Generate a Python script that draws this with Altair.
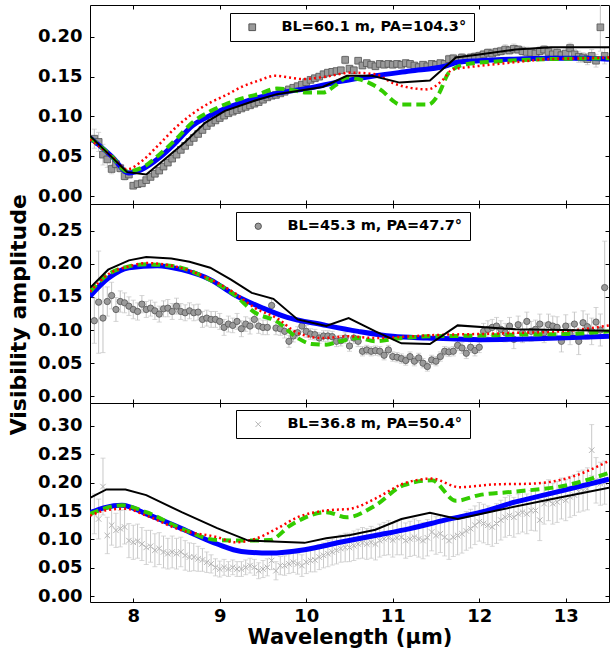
import altair as alt
import pandas as pd

FONT = "DejaVu Sans"

# wavelength grid of the measured points (micron)
LAM = [
    7.55, 7.60, 7.65, 7.70, 7.75, 7.80, 7.85, 7.90, 7.95, 8.00,
    8.05, 8.10, 8.15, 8.20, 8.25, 8.30, 8.35, 8.40, 8.45, 8.50,
    8.55, 8.60, 8.65, 8.70, 8.75, 8.80, 8.85, 8.90, 8.95, 9.00,
    9.05, 9.10, 9.15, 9.20, 9.25, 9.30, 9.35, 9.40, 9.45, 9.50,
    9.55, 9.60, 9.65, 9.70, 9.75, 9.80, 9.85, 9.90, 9.95, 10.00,
    10.05, 10.10, 10.15, 10.20, 10.25, 10.30, 10.35, 10.40, 10.45, 10.50,
    10.55, 10.60, 10.65, 10.70, 10.75, 10.80, 10.85, 10.90, 10.95, 11.00,
    11.05, 11.10, 11.15, 11.20, 11.25, 11.30, 11.35, 11.40, 11.45, 11.50,
    11.55, 11.60, 11.65, 11.70, 11.75, 11.80, 11.85, 11.90, 11.95, 12.00,
    12.05, 12.10, 12.15, 12.20, 12.25, 12.30, 12.35, 12.40, 12.45, 12.50,
    12.55, 12.60, 12.65, 12.70, 12.75, 12.80, 12.85, 12.90, 12.95, 13.00,
    13.05, 13.10, 13.15, 13.20, 13.25, 13.30, 13.35, 13.40, 13.45,
]

# ---- panel 1: BL=60.1 m, PA=104.3 deg
V1 = [
    0.072, 0.068, 0.052, 0.046, 0.034, 0.040, 0.035, 0.025, 0.027, 0.013,
    0.015, 0.016, 0.020, 0.024, 0.028, 0.032, 0.037, 0.042, 0.047, 0.052,
    0.058, 0.063, 0.068, 0.073, 0.078, 0.083, 0.088, 0.092, 0.095, 0.098,
    0.101, 0.104, 0.106, 0.108, 0.110, 0.112, 0.114, 0.116, 0.118, 0.121,
    0.124, 0.126, 0.127, 0.129, 0.131, 0.134, 0.136, 0.138, 0.140, 0.143,
    0.146, 0.148, 0.150, 0.153, 0.155, 0.156, 0.157, 0.158, 0.171, 0.160,
    0.158, 0.170, 0.164, 0.167, 0.165, 0.163, 0.166, 0.165, 0.166, 0.165,
    0.166, 0.165, 0.167, 0.166, 0.164, 0.162, 0.165, 0.163, 0.166, 0.165,
    0.167, 0.166, 0.172, 0.173, 0.171, 0.174, 0.172, 0.174, 0.175, 0.176,
    0.178, 0.180, 0.179, 0.181, 0.182, 0.184, 0.183, 0.185, 0.184, 0.182,
    0.181, 0.180, 0.179, 0.182, 0.184, 0.181, 0.178, 0.180, 0.177, 0.179,
    0.186, 0.178, 0.175, 0.174, 0.172, 0.176, 0.170, 0.212, 0.176,
]
E1 = [
    0.012, 0.012, 0.013, 0.010, 0.006, 0.006, 0.005, 0.005, 0.004, 0.004,
    0.003, 0.003, 0.003, 0.003, 0.003, 0.003, 0.003, 0.003, 0.003, 0.003,
    0.003, 0.003, 0.003, 0.003, 0.003, 0.003, 0.003, 0.003, 0.003, 0.003,
    0.003, 0.003, 0.003, 0.003, 0.003, 0.003, 0.003, 0.003, 0.003, 0.003,
    0.003, 0.003, 0.003, 0.003, 0.003, 0.003, 0.003, 0.004, 0.004, 0.004,
    0.004, 0.004, 0.004, 0.004, 0.004, 0.004, 0.004, 0.004, 0.005, 0.004,
    0.004, 0.004, 0.004, 0.004, 0.004, 0.004, 0.004, 0.004, 0.004, 0.004,
    0.004, 0.004, 0.004, 0.004, 0.004, 0.004, 0.004, 0.004, 0.004, 0.004,
    0.004, 0.004, 0.005, 0.005, 0.005, 0.005, 0.005, 0.005, 0.005, 0.005,
    0.005, 0.005, 0.006, 0.005, 0.005, 0.006, 0.005, 0.006, 0.005, 0.006,
    0.006, 0.005, 0.006, 0.006, 0.005, 0.006, 0.007, 0.006, 0.006, 0.007,
    0.006, 0.006, 0.007, 0.006, 0.007, 0.008, 0.008, 0.030, 0.010,
]
BLACK1_L = [7.5, 7.93, 8.15, 8.35, 8.6, 8.83, 9.06, 9.41, 9.66, 10.19, 10.47, 10.76, 11.08, 11.43, 11.73, 12.02, 12.42, 12.83, 13.5]
BLACK1_V = [0.0755, 0.030, 0.027, 0.045, 0.068, 0.092, 0.107, 0.120, 0.128, 0.137, 0.151, 0.151, 0.1425, 0.145, 0.174, 0.178, 0.184, 0.187, 0.187]
BLUE1_L = [7.5, 7.75, 7.95, 8.1, 8.3, 8.5, 8.68, 8.85, 9.06, 9.3, 9.5, 9.66, 10.0, 10.4, 10.8, 11.2, 11.6, 11.75, 12.0, 12.4, 12.8, 13.2, 13.5]
BLUE1_V = [0.0734, 0.050, 0.029, 0.0335, 0.048, 0.068, 0.088, 0.099, 0.110, 0.119, 0.125, 0.129, 0.135, 0.144, 0.151, 0.157, 0.163, 0.168, 0.170, 0.172, 0.173, 0.173, 0.172]
RED1_L = [7.5, 7.75, 7.93, 8.1, 8.3, 8.5, 8.68, 8.9, 9.06, 9.25, 9.45, 9.64, 9.8, 9.95, 10.23, 10.51, 10.8, 11.0, 11.2, 11.4, 11.57, 11.69, 11.8, 12.0, 12.4, 12.8, 13.2, 13.5]
RED1_V = [0.071, 0.050, 0.0335, 0.044, 0.065, 0.087, 0.103, 0.118, 0.126, 0.137, 0.145, 0.151, 0.149, 0.147, 0.150, 0.155, 0.153, 0.142, 0.136, 0.134, 0.145, 0.159, 0.161, 0.1635, 0.168, 0.172, 0.173, 0.174]
GREEN1_L = [7.5, 7.75, 7.93, 8.14, 8.3, 8.5, 8.68, 8.9, 9.06, 9.3, 9.45, 9.66, 9.85, 10.0, 10.19, 10.35, 10.47, 10.6, 10.72, 10.88, 11.0, 11.08, 11.41, 11.53, 11.65, 11.85, 12.2, 12.8, 13.5]
GREEN1_V = [0.0734, 0.050, 0.031, 0.038, 0.052, 0.072, 0.092, 0.107, 0.115, 0.124, 0.128, 0.135, 0.133, 0.130, 0.130, 0.140, 0.149, 0.147, 0.1425, 0.132, 0.120, 0.115, 0.115, 0.128, 0.155, 0.1656, 0.169, 0.172, 0.173]

# ---- panel 2: BL=45.3 m, PA=47.7 deg
V2 = [
    0.114, 0.142, 0.118, 0.143, 0.152, 0.131, 0.143, 0.141, 0.136, 0.131,
    0.128, 0.139, 0.131, 0.133, 0.129, 0.124, 0.132, 0.133, 0.128, 0.136,
    0.128, 0.126, 0.129, 0.126, 0.127, 0.116, 0.118, 0.116, 0.116, 0.113,
    0.104, 0.109, 0.107, 0.113, 0.102, 0.109, 0.106, 0.116, 0.106, 0.104,
    0.104, 0.137, 0.103, 0.102, 0.098, 0.083, 0.091, 0.096, 0.106, 0.098,
    0.094, 0.093, 0.088, 0.091, 0.091, 0.090, 0.083, 0.084, 0.088, 0.076,
    0.088, 0.083, 0.068, 0.070, 0.068, 0.069, 0.068, 0.062, 0.070, 0.060,
    0.059, 0.057, 0.054, 0.060, 0.053, 0.058, 0.050, 0.045, 0.055, 0.053,
    0.060, 0.068, 0.067, 0.068, 0.077, 0.073, 0.065, 0.074, 0.069, 0.074,
    0.098, 0.101, 0.104, 0.106, 0.101, 0.096, 0.106, 0.086, 0.108, 0.096,
    0.113, 0.098, 0.101, 0.109, 0.096, 0.108, 0.106, 0.104, 0.083, 0.106,
    0.094, 0.109, 0.083, 0.111, 0.105, 0.098, 0.112, 0.100, 0.164,
]
E2 = [
    0.034, 0.077, 0.052, 0.022, 0.020, 0.018, 0.016, 0.015, 0.014, 0.014,
    0.013, 0.013, 0.012, 0.012, 0.013, 0.012, 0.012, 0.013, 0.012, 0.012,
    0.012, 0.012, 0.012, 0.012, 0.012, 0.012, 0.012, 0.012, 0.012, 0.012,
    0.012, 0.012, 0.011, 0.012, 0.012, 0.011, 0.012, 0.012, 0.011, 0.011,
    0.011, 0.010, 0.010, 0.010, 0.010, 0.009, 0.009, 0.009, 0.009, 0.009,
    0.008, 0.008, 0.008, 0.008, 0.008, 0.008, 0.008, 0.008, 0.008, 0.008,
    0.008, 0.008, 0.007, 0.007, 0.007, 0.007, 0.007, 0.007, 0.007, 0.007,
    0.007, 0.007, 0.007, 0.007, 0.007, 0.007, 0.007, 0.007, 0.007, 0.007,
    0.007, 0.007, 0.007, 0.007, 0.008, 0.008, 0.008, 0.008, 0.008, 0.008,
    0.012, 0.013, 0.012, 0.013, 0.013, 0.014, 0.013, 0.014, 0.013, 0.015,
    0.014, 0.015, 0.014, 0.015, 0.015, 0.016, 0.015, 0.016, 0.016, 0.017,
    0.016, 0.018, 0.020, 0.018, 0.019, 0.020, 0.022, 0.024, 0.070,
]
BLACK2_L = [7.5, 7.71, 7.95, 8.15, 8.44, 8.65, 8.89, 9.13, 9.37, 9.62, 9.9, 10.23, 10.49, 10.8, 11.1, 11.43, 11.75, 12.42, 13.5]
BLACK2_V = [0.1635, 0.191, 0.205, 0.210, 0.208, 0.203, 0.194, 0.176, 0.156, 0.147, 0.116, 0.106, 0.118, 0.098, 0.080, 0.079, 0.107, 0.101, 0.099]
BLUE2_L = [7.5, 7.71, 7.95, 8.28, 8.56, 8.89, 9.17, 9.5, 9.78, 10.19, 10.6, 11.0, 11.4, 12.02, 12.65, 13.5]
BLUE2_V = [0.151, 0.178, 0.194, 0.197, 0.191, 0.176, 0.153, 0.133, 0.119, 0.108, 0.098, 0.0905, 0.088, 0.0855, 0.087, 0.0905]
RED2_L = [7.5, 7.71, 7.95, 8.15, 8.48, 8.85, 9.17, 9.41, 9.66, 9.9, 10.19, 10.47, 10.8, 11.2, 11.6, 12.0, 12.4, 12.95, 13.5]
RED2_V = [0.158, 0.184, 0.196, 0.201, 0.196, 0.179, 0.156, 0.133, 0.118, 0.0956, 0.088, 0.0905, 0.088, 0.0905, 0.093, 0.094, 0.0956, 0.098, 0.107]
GREEN2_L = [7.5, 7.71, 7.95, 8.15, 8.48, 8.85, 9.17, 9.41, 9.66, 9.9, 10.06, 10.23, 10.39, 10.6, 10.8, 11.04, 11.41, 12.0, 12.4, 13.0, 13.5]
GREEN2_V = [0.158, 0.184, 0.196, 0.199, 0.196, 0.178, 0.153, 0.126, 0.113, 0.088, 0.079, 0.078, 0.083, 0.088, 0.083, 0.087, 0.0905, 0.0916, 0.093, 0.094, 0.098]

# ---- panel 3: BL=36.8 m, PA=50.4 deg
V3 = [
    0.145, 0.136, 0.193, 0.107, 0.125, 0.116, 0.119, 0.122, 0.098, 0.095,
    0.097, 0.092, 0.086, 0.088, 0.081, 0.084, 0.078, 0.075, 0.078, 0.075,
    0.078, 0.072, 0.069, 0.069, 0.066, 0.064, 0.060, 0.057, 0.051, 0.048,
    0.051, 0.048, 0.051, 0.048, 0.048, 0.051, 0.054, 0.051, 0.045, 0.048,
    0.051, 0.063, 0.045, 0.054, 0.054, 0.057, 0.060, 0.057, 0.054, 0.060,
    0.063, 0.064, 0.069, 0.072, 0.075, 0.078, 0.081, 0.084, 0.086, 0.086,
    0.089, 0.092, 0.094, 0.092, 0.095, 0.092, 0.098, 0.101, 0.103, 0.099,
    0.103, 0.104, 0.098, 0.101, 0.104, 0.101, 0.098, 0.103, 0.113, 0.107,
    0.110, 0.104, 0.098, 0.104, 0.107, 0.110, 0.115, 0.119, 0.125, 0.131,
    0.128, 0.125, 0.122, 0.128, 0.134, 0.139, 0.142, 0.139, 0.145, 0.148,
    0.145, 0.151, 0.151, 0.134, 0.163, 0.169, 0.163, 0.166, 0.172, 0.169,
    0.175, 0.178, 0.184, 0.186, 0.189, 0.257, 0.204, 0.198, 0.200,
]
E3 = [
    0.035, 0.035, 0.050, 0.032, 0.035, 0.030, 0.032, 0.030, 0.030, 0.030,
    0.030, 0.029, 0.030, 0.028, 0.029, 0.028, 0.028, 0.027, 0.028, 0.027,
    0.026, 0.026, 0.025, 0.024, 0.022, 0.020, 0.018, 0.016, 0.015, 0.014,
    0.014, 0.013, 0.013, 0.013, 0.013, 0.013, 0.013, 0.014, 0.014, 0.015,
    0.015, 0.016, 0.016, 0.016, 0.017, 0.017, 0.018, 0.018, 0.019, 0.020,
    0.020, 0.021, 0.022, 0.022, 0.023, 0.023, 0.024, 0.024, 0.025, 0.025,
    0.026, 0.026, 0.027, 0.027, 0.028, 0.028, 0.029, 0.029, 0.030, 0.030,
    0.030, 0.031, 0.031, 0.031, 0.032, 0.032, 0.032, 0.032, 0.033, 0.033,
    0.033, 0.033, 0.033, 0.034, 0.034, 0.034, 0.034, 0.034, 0.034, 0.034,
    0.034, 0.034, 0.034, 0.035, 0.035, 0.035, 0.035, 0.035, 0.035, 0.035,
    0.035, 0.035, 0.036, 0.036, 0.036, 0.036, 0.036, 0.036, 0.036, 0.036,
    0.036, 0.036, 0.036, 0.036, 0.037, 0.045, 0.040, 0.038, 0.038,
]
BLACK3_L = [7.5, 7.69, 7.91, 8.15, 8.56, 8.97, 9.33, 9.98, 10.23, 10.51, 10.8, 11.1, 11.43, 11.75, 12.2, 12.8, 13.5]
BLACK3_V = [0.173, 0.188, 0.188, 0.178, 0.148, 0.120, 0.098, 0.094, 0.102, 0.108, 0.117, 0.136, 0.147, 0.136, 0.151, 0.170, 0.191]
BLUE3_L = [7.5, 7.67, 7.87, 8.15, 8.56, 8.97, 9.25, 9.58, 9.98, 10.39, 10.8, 11.2, 11.6, 12.02, 12.42, 12.83, 13.5]
BLUE3_V = [0.147, 0.156, 0.160, 0.145, 0.119, 0.092, 0.079, 0.076, 0.082, 0.095, 0.107, 0.119, 0.134, 0.148, 0.166, 0.181, 0.206]
RED3_L = [7.5, 7.71, 7.91, 8.15, 8.56, 8.97, 9.17, 9.41, 9.66, 9.9, 10.23, 10.51, 10.8, 11.12, 11.45, 11.77, 12.2, 12.6, 13.0, 13.5]
RED3_V = [0.142, 0.152, 0.154, 0.142, 0.116, 0.104, 0.095, 0.101, 0.119, 0.139, 0.151, 0.154, 0.172, 0.198, 0.207, 0.192, 0.197, 0.198, 0.207, 0.238]
GREEN3_L = [7.5, 7.87, 8.15, 8.56, 8.97, 9.33, 9.58, 9.82, 10.23, 10.47, 10.8, 11.12, 11.45, 11.73, 12.0, 12.4, 13.0, 13.5]
GREEN3_V = [0.145, 0.160, 0.148, 0.119, 0.099, 0.098, 0.099, 0.125, 0.148, 0.139, 0.160, 0.195, 0.204, 0.168, 0.178, 0.184, 0.195, 0.217]

LABELS = ["BL=60.1 m, PA=104.3°", "BL=45.3 m, PA=47.7°", "BL=36.8 m, PA=50.4°"]
X_TICKS = [8, 9, 10, 11, 12, 13]
Y_TICKS = [
    [0.0, 0.05, 0.10, 0.15, 0.20],
    [0.0, 0.05, 0.10, 0.15, 0.20, 0.25],
    [0.0, 0.05, 0.10, 0.15, 0.20, 0.25, 0.30],
]
Y_DOMAINS = [[-0.01, 0.24], [-0.01, 0.29], [-0.01, 0.34]]

W, H = 519, 199
CROSS = "M-1,-1L1,1M-1,1L1,-1"


def panel(vals, errs, label, ydom, yticks, models, marker, leg_x, leg_y, show_x):
    df = pd.DataFrame({
        "lam": LAM,
        "v": vals,
        "lo": [v - e for v, e in zip(vals, errs)],
        "hi": [v + e for v, e in zip(vals, errs)],
        "series": [label] * len(LAM),
    })
    xs = alt.Scale(domain=[7.5, 13.5], nice=False, zero=False)
    ys = alt.Scale(domain=ydom, nice=False, zero=False)

    ax_bottom = alt.Axis(orient="bottom", values=X_TICKS, format="d", offset=-4, tickSize=4,
                         labels=show_x, labelPadding=5,
                         title=("Wavelength (μm)" if show_x else None), titlePadding=1)
    ax_left = alt.Axis(orient="left", values=yticks, format=".2f", offset=-4, tickSize=4,
                       labelPadding=8, title=None)
    ax_top = alt.Axis(orient="top", values=X_TICKS, offset=-4, tickSize=4, labels=False, title=None)
    ax_right = alt.Axis(orient="right", values=yticks, offset=-4, tickSize=4, labels=False, title=None)

    err_col = marker["errcolor"]
    bars = alt.Chart(df).mark_rule(color=err_col, strokeWidth=1, clip=True).encode(
        x=alt.X("lam:Q", scale=xs, axis=ax_bottom),
        y=alt.Y("lo:Q", scale=ys, axis=ax_left),
        y2="hi:Q",
    )
    cap_lo = alt.Chart(df).mark_tick(orient="horizontal", color=err_col, size=5, thickness=1, clip=True).encode(
        x=alt.X("lam:Q", scale=xs, axis=None),
        y=alt.Y("lo:Q", scale=ys, axis=None),
    )
    cap_hi = alt.Chart(df).mark_tick(orient="horizontal", color=err_col, size=5, thickness=1, clip=True).encode(
        x=alt.X("lam:Q", scale=xs, axis=None),
        y=alt.Y("hi:Q", scale=ys, axis=None),
    )
    legend = alt.Legend(
        orient="none", legendX=leg_x, legendY=leg_y, title=None,
        strokeColor="black", fillColor="white", padding=7, cornerRadius=0,
        labelFont=FONT, labelFontSize=14.5, labelFontWeight="bold", labelColor="black", labelLimit=400,
        symbolType=marker["shape"], symbolSize=marker["lsize"], symbolOffset=8, labelOffset=22,
        symbolStrokeColor=marker["stroke"], symbolStrokeWidth=1,
    )
    if marker["filled"]:
        pts_mark = alt.Chart(df).mark_point(shape=marker["shape"], filled=True, size=marker["size"],
                                            stroke=marker["stroke"], strokeWidth=0.8, opacity=1, clip=True)
    else:
        pts_mark = alt.Chart(df).mark_point(shape=marker["shape"], filled=False, size=marker["size"],
                                            strokeWidth=1, opacity=1, clip=True)
    pts = pts_mark.encode(
        x=alt.X("lam:Q", scale=xs, axis=ax_top),
        y=alt.Y("v:Q", scale=ys, axis=ax_right),
        color=alt.Color("series:N", scale=alt.Scale(domain=[label], range=[marker["color"]]), legend=legend),
    )

    styles = {
        "blue": dict(color="#0000ff", strokeWidth=5, interpolate="monotone"),
        "green": dict(color="#33cc00", strokeWidth=4, strokeDash=[9, 5], interpolate="monotone"),
        "red": dict(color="#ff0000", strokeWidth=2.5, strokeDash=[2, 3], interpolate="monotone"),
        "black": dict(color="#000000", strokeWidth=2),
    }
    lines = []
    for name in ["blue", "green", "red", "black"]:
        lx, ly = models[name]
        mdf = pd.DataFrame({"lam": lx, "v": ly})
        lines.append(
            alt.Chart(mdf).mark_line(clip=True, **styles[name]).encode(
                x=alt.X("lam:Q", scale=xs, axis=None),
                y=alt.Y("v:Q", scale=ys, axis=None),
            )
        )
    return alt.layer(bars, cap_lo, cap_hi, pts, *lines).properties(width=W, height=H)


M_SQ = dict(shape="square", filled=True, size=45, lsize=45, color="#9a9a9a", stroke="#555555", errcolor="#c4c4c4")
M_CI = dict(shape="circle", filled=True, size=40, lsize=40, color="#9a9a9a", stroke="#555555", errcolor="#c4c4c4")
M_CR = dict(shape=CROSS, filled=False, size=30, lsize=30, color="#b4b4b4", stroke="#b4b4b4", errcolor="#c8c8c8")

p1 = panel(V1, E1, LABELS[0], Y_DOMAINS[0], Y_TICKS[0],
           {"blue": (BLUE1_L, BLUE1_V), "green": (GREEN1_L, GREEN1_V), "red": (RED1_L, RED1_V), "black": (BLACK1_L, BLACK1_V)},
           M_SQ, 140, 8, False)
p2 = panel(V2, E2, LABELS[1], Y_DOMAINS[1], Y_TICKS[1],
           {"blue": (BLUE2_L, BLUE2_V), "green": (GREEN2_L, GREEN2_V), "red": (RED2_L, RED2_V), "black": (BLACK2_L, BLACK2_V)},
           M_CI, 146, 8, False)
p3 = panel(V3, E3, LABELS[2], Y_DOMAINS[2], Y_TICKS[2],
           {"blue": (BLUE3_L, BLUE3_V), "green": (GREEN3_L, GREEN3_V), "red": (RED3_L, RED3_V), "black": (BLACK3_L, BLACK3_V)},
           M_CR, 146, 7, True)

chart = alt.vconcat(p1, p2, p3, spacing=0, bounds="flush").resolve_scale(color="independent").properties(
    title=alt.TitleParams(text="Visibility amplitude", orient="left", anchor="middle",
                          font=FONT, fontSize=22, fontWeight="bold", color="black", offset=6, dx=11),
    padding={"left": 8, "top": 4, "right": 0, "bottom": 0},
).configure_view(stroke="black", strokeWidth=1).configure_axis(
    labelFont=FONT, labelFontSize=18, labelFontWeight="bold", labelColor="black",
    titleFont=FONT, titleFontSize=21, titleFontWeight="bold", titleColor="black",
    tickColor="black", tickWidth=1, grid=False, domain=False,
)

chart.save("out.html", embed_options={"renderer": "svg", "actions": False})
